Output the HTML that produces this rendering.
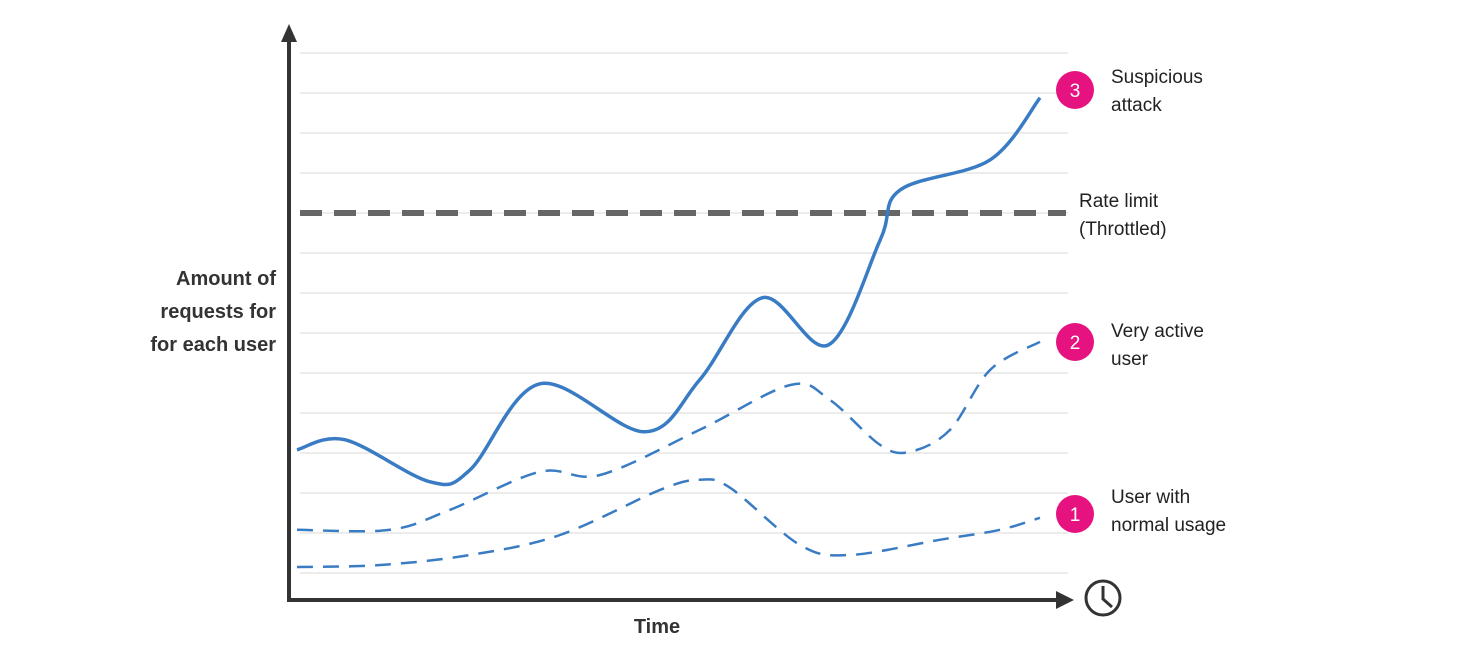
<!DOCTYPE html>
<html><head><meta charset="utf-8"><style>
body{margin:0;background:#fff;}
svg{display:block;font-family:"Liberation Sans",sans-serif;}
</style></head><body>
<svg width="1476" height="658" viewBox="0 0 1476 658">
<g id="grid"></g>
<line x1="300" y1="213" x2="1066" y2="213" stroke="#666" stroke-width="6" stroke-dasharray="22 12"/>
<g id="series"></g>
<line x1="289" y1="40" x2="289" y2="600" stroke="#333" stroke-width="4"/>
<polygon points="281,42 289,24 297,42" fill="#333"/>
<line x1="287" y1="600" x2="1060" y2="600" stroke="#333" stroke-width="4"/>
<polygon points="1056,591 1074,600 1056,609" fill="#333"/>
<g>
<circle cx="1103" cy="598" r="17" fill="none" stroke="#333" stroke-width="3"/>
<polyline points="1103,586 1103,599 1112,607" fill="none" stroke="#333" stroke-width="3"/>
</g>
<g font-weight="bold" font-size="20" fill="#333" text-anchor="end">
<text x="276" y="285">Amount of</text>
<text x="276" y="318">requests for</text>
<text x="276" y="351">for each user</text>
</g>
<text x="657" y="633" font-weight="bold" font-size="20" fill="#333" text-anchor="middle">Time</text>
<g font-size="19" fill="#222">
<g><text x="1079" y="207">Rate limit</text><text x="1079" y="235">(Throttled)</text></g>
<g><circle cx="1075" cy="90" r="19" fill="#e5127f"/><text x="1075" y="97" fill="#fff" text-anchor="middle">3</text><text x="1111" y="83">Suspicious</text><text x="1111" y="111">attack</text></g>
<g><circle cx="1075" cy="342" r="19" fill="#e5127f"/><text x="1075" y="349" fill="#fff" text-anchor="middle">2</text><text x="1111" y="337">Very active</text><text x="1111" y="365">user</text></g>
<g><circle cx="1075" cy="514" r="19" fill="#e5127f"/><text x="1075" y="521" fill="#fff" text-anchor="middle">1</text><text x="1111" y="503">User with</text><text x="1111" y="531">normal usage</text></g>
</g>
</svg>
<script>
const attackT=[0,6.5,17.9,23.3,32.7,46.8,54.2,62.6,71.5,78.5,81.2,93.3,100];
const attackV=[3.08,3.33,2.28,2.58,4.73,3.53,4.83,6.88,5.7,8.33,9.58,10.33,11.88];
const activeT=[0,12.5,20.6,32.7,40.8,54.2,66.4,71.7,78.5,82.5,87.9,93.3,100];
const activeV=[1.08,1.08,1.58,2.53,2.45,3.58,4.7,4.33,3.2,3.03,3.58,5.08,5.78];
const normalT=[0,11.2,23.3,35.4,48.9,54.2,58.3,67.7,74.4,86.5,94.6,100];
const normalV=[0.15,0.2,0.45,0.95,2.08,2.33,2.13,0.7,0.45,0.83,1.08,1.38];
const gridCount=14;
const sx=t=>297+t/100*743;
const sy=v=>573-v*40;
const NS="http://www.w3.org/2000/svg";
const grid=document.getElementById('grid');
for(let i=0;i<gridCount;i++){
 const l=document.createElementNS(NS,'line');
 
 
 l.setAttribute('x1',300);l.setAttribute('x2',1068);
 l.setAttribute('y1',sy(i));l.setAttribute('y2',sy(i));
 l.setAttribute('stroke','#e6e6e6');l.setAttribute('stroke-width','1.5');
 grid.appendChild(l);
}
function pathD(T,V){
 const p=T.map((t,i)=>[sx(t),sy(V[i])]);
 let d='M'+p[0][0]+','+p[0][1];
 for(let i=0;i<p.length-1;i++){
  const p0=p[i-1]||p[i],p1=p[i],p2=p[i+1],p3=p[i+2]||p2;
  const c1=[p1[0]+(p2[0]-p0[0])/6,p1[1]+(p2[1]-p0[1])/6];
  const c2=[p2[0]-(p3[0]-p1[0])/6,p2[1]-(p3[1]-p1[1])/6];
  d+=' C'+c1+' '+c2+' '+p2;
 }
 return d;
}
const series=document.getElementById('series');
function add(T,V,name,dash,w){
 const el=document.createElementNS(NS,'path');
 
 
 el.setAttribute('d',pathD(T,V));
 el.setAttribute('fill','none');el.setAttribute('stroke','#3a7cc4');
 el.setAttribute('stroke-width',w);
 if(dash)el.setAttribute('stroke-dasharray',dash);
 series.appendChild(el);
}
add(normalT,normalV,'normal-usage-line','16 10',2.5);
add(activeT,activeV,'very-active-user-line','16 10',2.5);
add(attackT,attackV,'suspicious-attack-line',null,3.5);
</script>
</body></html>
